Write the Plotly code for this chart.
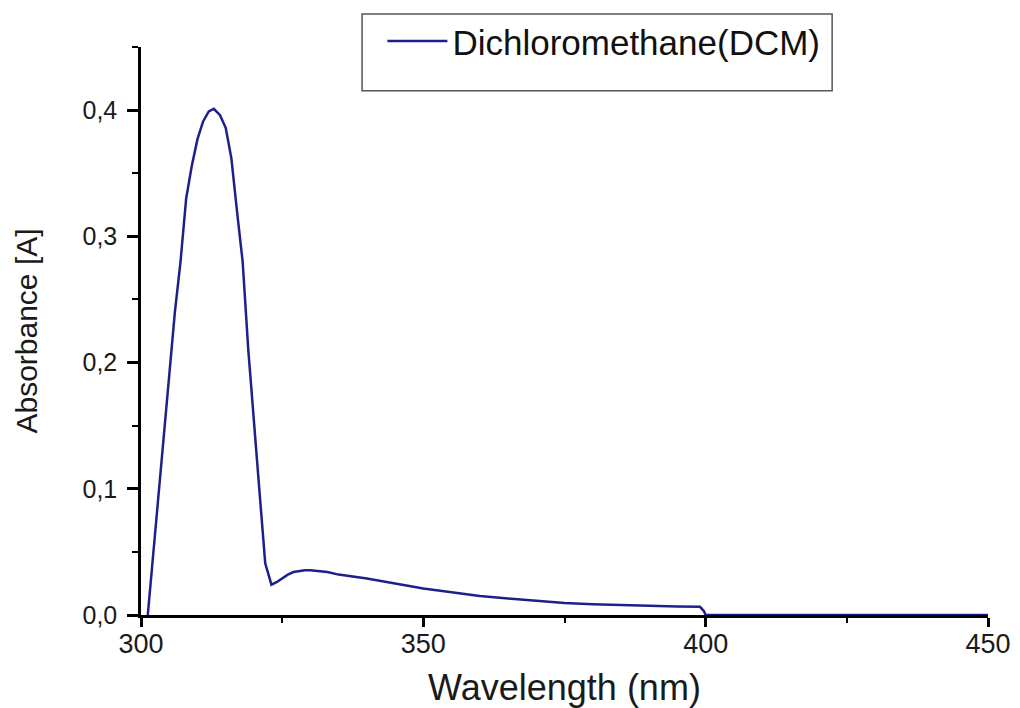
import plotly.graph_objects as go

# Data
wavelength_nm = [301.2, 302.0, 303.0, 304.0, 305.0, 306.0, 307.0, 308.0, 309.0, 310.0,
                 311.0, 312.0, 312.9, 314.0, 315.0, 316.0, 317.0, 318.0, 319.0, 320.0,
                 321.0, 322.0, 323.1, 324.0, 325.0, 326.0, 327.0, 328.0, 329.0, 330.0,
                 331.0, 333.0, 335.0, 340.0, 345.0, 350.0, 355.0, 360.0, 365.0, 370.0,
                 375.0, 380.0, 385.0, 390.0, 395.0, 399.0, 399.7, 400.0, 410.0, 420.0,
                 430.0, 440.0, 450.0]
absorbance = [0.000, 0.040, 0.095, 0.145, 0.190, 0.240, 0.280, 0.330, 0.356, 0.377,
              0.391, 0.399, 0.401, 0.396, 0.386, 0.362, 0.320, 0.280, 0.210, 0.150,
              0.097, 0.041, 0.024, 0.026, 0.029, 0.032, 0.034, 0.035, 0.0355, 0.0355,
              0.035, 0.034, 0.032, 0.029, 0.025, 0.021, 0.018, 0.015, 0.013, 0.011,
              0.0095, 0.0085, 0.0078, 0.0072, 0.0068, 0.0065, 0.003, 0.000, 0.000, 0.000,
              0.000, 0.000, 0.000]

series_name = "Dichloromethane(DCM)"
x_title = "Wavelength (nm)"
y_title = "Absorbance [A]"
x_ticks = [300, 350, 400, 450]
y_ticks = [0.0, 0.1, 0.2, 0.3, 0.4]

FONT = "Liberation Sans, Arial, sans-serif"
LINE_COLOR = "#1f1f8c"
TEXT = "#1a1a1a"

fig = go.Figure()
fig.add_trace(go.Scatter(
    x=wavelength_nm, y=absorbance, mode="lines", name=series_name,
    line=dict(color=LINE_COLOR, width=2.5), showlegend=True,
))

fig.update_layout(
    width=1020, height=708,
    margin=dict(l=141, r=32, t=43, b=93),
    paper_bgcolor="white", plot_bgcolor="white",
    separators=",.",
    font=dict(family=FONT, color=TEXT),
    showlegend=True,
    legend=dict(
        x=0.285, y=1.062, xanchor="left", yanchor="top",
        bgcolor="rgba(0,0,0,0)", borderwidth=0,
        font=dict(family=FONT, size=35, color="#111111"),
        itemwidth=60,
    ),
    shapes=[dict(
        type="rect", xref="paper", yref="paper",
        x0=0.261, x1=0.816, y0=0.923, y1=1.058,
        line=dict(color="#555555", width=1.5), fillcolor="rgba(0,0,0,0)",
        layer="above",
    )],
)

fig.update_xaxes(
    range=[300, 450], tickvals=x_ticks, automargin=False,
    showline=True, linecolor="black", linewidth=2.5, mirror=False,
    showgrid=False, zeroline=False, layer="below traces",
    ticks="outside", ticklen=9, tickwidth=2.5, tickcolor="black",
    ticklabelstandoff=-6,
    minor=dict(ticks="outside", ticklen=5, tickwidth=2, tickcolor="black", dtick=25, showgrid=False),
    tickfont=dict(family=FONT, size=27, color=TEXT),
    title=dict(text=x_title, font=dict(family=FONT, size=36, color=TEXT), standoff=24),
)
fig.update_yaxes(
    range=[0, 0.45], tickvals=y_ticks, tickformat=".1f", automargin=False,
    showline=True, linecolor="black", linewidth=2.5, mirror=False,
    showgrid=False, zeroline=False, layer="below traces",
    ticks="outside", ticklen=11, tickwidth=2.5, tickcolor="black",
    ticklabelstandoff=5,
    minor=dict(ticks="outside", ticklen=6, tickwidth=2, tickcolor="black", dtick=0.05, showgrid=False),
    tickfont=dict(family=FONT, size=25, color=TEXT),
    title=dict(text=y_title, font=dict(family=FONT, size=30, color=TEXT), standoff=36),
)

fig.write_html("out.html")
